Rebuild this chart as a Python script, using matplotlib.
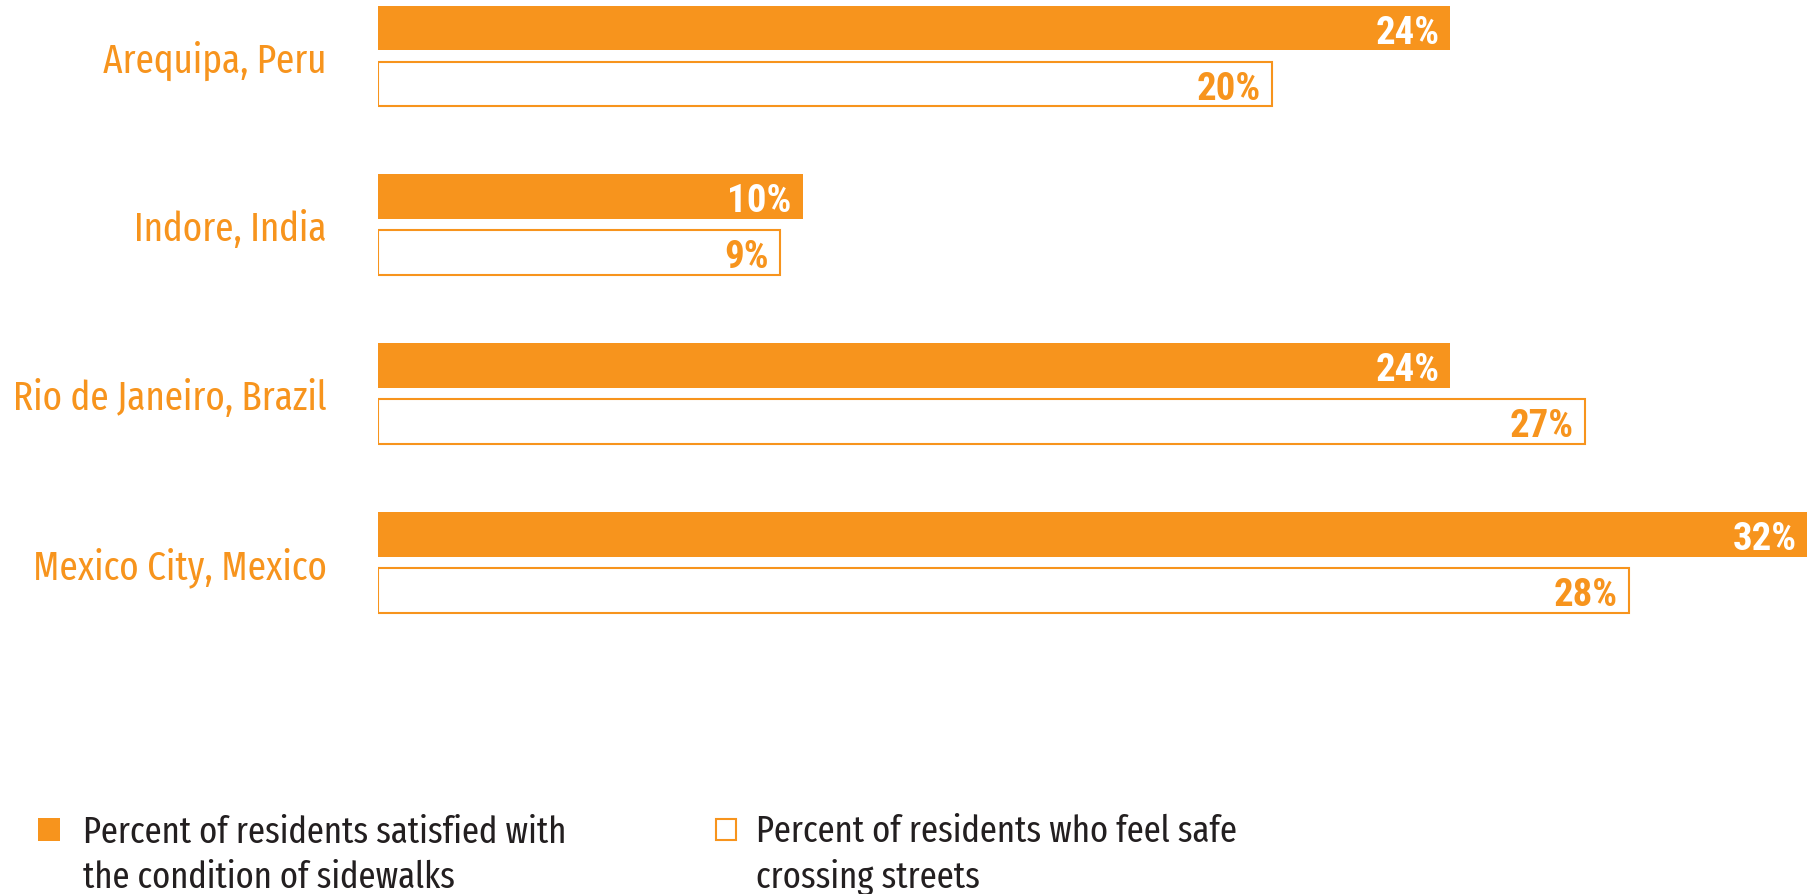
import numpy as np
import matplotlib
matplotlib.use("Agg")
import matplotlib.pyplot as plt
from matplotlib.patches import Rectangle

# data
cities = ["Arequipa, Peru", "Indore, India", "Rio de Janeiro, Brazil", "Mexico City, Mexico"]
sidewalks = [24, 9.5, 24, 32]
sidewalks_lbl = ["24%", "10%", "24%", "32%"]
crossing = [20, 9, 27, 28]
crossing_lbl = ["20%", "9%", "27%", "28%"]
legend_lbls = ["Percent of residents satisfied with\nthe condition of sidewalks",
               "Percent of residents who feel safe\ncrossing streets"]

ORANGE = "#F7941D"
DARK = "#231F20"
W, H = 1808, 895
light = ["Fira Sans Extra Condensed", "Barlow Condensed", "DejaVu Sans"]
bold = ["Roboto Condensed", "Fira Sans Condensed", "DejaVu Sans"]

fig = plt.figure(figsize=(W / 100, H / 100), dpi=100)
fig.patch.set_facecolor("white")

# axes spans from bar origin (x=378px) to right edge, full height
ax = fig.add_axes([378 / W, 0, 1 - 378 / W, 1])
ind = np.arange(len(cities))
off = 0.166
h = 0.266

ax.barh(ind - off, sidewalks, h, color=ORANGE, edgecolor="none")
ax.barh(ind + off, crossing, h, color="white", edgecolor=ORANGE, linewidth=1.5)

for i in ind:
    ax.annotate(sidewalks_lbl[i], (sidewalks[i], i - off), xytext=(-8, 0),
                textcoords="offset points", ha="right", va="center_baseline",
                color="white", fontsize=28, fontweight="bold", family=bold)
    ax.annotate(crossing_lbl[i], (crossing[i], i + off), xytext=(-8, 0),
                textcoords="offset points", ha="right", va="center_baseline",
                color=ORANGE, fontsize=28, fontweight="bold", family=bold)

ax.set_xlim(0, 32)
ax.set_ylim(4.967, -0.338)
ax.set_yticks(ind)
ax.set_yticklabels(cities, family=light, fontweight="normal", fontsize=29, color=ORANGE)
ax.tick_params(axis="y", length=0, pad=37)
ax.set_xticks([])
for s in ax.spines.values():
    s.set_visible(False)
ax.patch.set_alpha(0)

# legend
fig.patches.append(Rectangle((38 / W, 1 - 842 / H), 22 / W, 23 / H,
                             transform=fig.transFigure, facecolor=ORANGE,
                             edgecolor="none"))
fig.patches.append(Rectangle((716 / W, 1 - 841 / H), 20 / W, 21 / H,
                             transform=fig.transFigure, facecolor="white",
                             edgecolor=ORANGE, linewidth=1.5))
fig.text(83 / W, 1 - 855 / H, legend_lbls[0], ha="left", va="center",
         fontsize=27, color=DARK, family=light, fontweight="normal", linespacing=1.32)
fig.text(756 / W, 1 - 855 / H, legend_lbls[1], ha="left", va="center",
         fontsize=27, color=DARK, family=light, fontweight="normal", linespacing=1.32)

fig.savefig("out.png", dpi=100, facecolor="white")
